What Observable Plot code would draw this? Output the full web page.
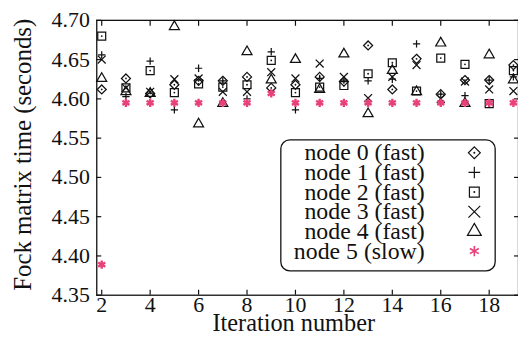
<!DOCTYPE html>
<html><head><meta charset="utf-8">
<script src="https://cdn.jsdelivr.net/npm/d3@7"></script>
<script src="https://cdn.jsdelivr.net/npm/@observablehq/plot@0.6"></script>
<style>html,body{margin:0;padding:0;background:#fff;overflow:hidden;}</style>
</head><body><div id="chart"></div>
<script>
// ---- data ----
const iterations = [2,3,4,5,6,7,8,9,10,11,12,13,14,15,16,17,18,19];
const node0 = [4.612,4.626,4.607,4.618,4.623,4.623,4.628,4.614,4.618,4.628,4.622,4.668,4.612,4.651,4.606,4.624,4.624,4.643];
const node1 = [4.656,4.603,4.648,4.586,4.639,4.623,4.600,4.660,4.586,4.626,4.624,4.623,4.625,4.670,4.606,4.604,4.624,4.628];
const node2 = [4.680,4.614,4.636,4.608,4.619,4.615,4.618,4.649,4.608,4.615,4.617,4.632,4.646,4.610,4.652,4.644,4.594,4.636];
const node3 = [4.650,4.614,4.609,4.625,4.626,4.609,4.609,4.634,4.626,4.645,4.628,4.601,4.628,4.643,4.600,4.622,4.612,4.610];
const node4 = [4.626,4.609,4.607,4.692,4.568,4.594,4.660,4.624,4.650,4.612,4.657,4.581,4.636,4.609,4.671,4.594,4.656,4.624];
const node5 = [4.389,4.595,4.595,4.595,4.595,4.595,4.595,4.607,4.595,4.595,4.595,4.595,4.595,4.595,4.595,4.595,4.595,4.595];
const nodeNames = ["node 0 (fast)","node 1 (fast)","node 2 (fast)","node 3 (fast)","node 4 (fast)","node 5 (slow)"];
const xTicks = [2,4,6,8,10,12,14,16,18];
const yTicks = [4.35,4.40,4.45,4.50,4.55,4.60,4.65,4.70];
const xTitle = "Iteration number";
const yTitle = "Fock matrix time (seconds)";

// ---- styles ----
const series = [node0,node1,node2,node3,node4,node5];
const symbolNames = ["diamond2","plus","square2","times","triangle2","asterisk"];
const d3Symbols = [d3.symbolDiamond2,d3.symbolPlus,d3.symbolSquare2,d3.symbolTimes,d3.symbolTriangle2,d3.symbolAsterisk];
const colors = ["#111","#111","#111","#111","#111","#e8407a"];
const dotR = [4.1,2.5,5.1,3.7,4.8,3.9];
const legendSize = [92,47,125,94,140,75];
const font = "'Liberation Serif','Times New Roman',serif";

const rowsFor = k => series[k].map((v,i) => ({iteration: iterations[i], time: v, node: nodeNames[k]}));

const marks = [
  Plot.frame({stroke:"#111", strokeWidth:1.3}),
  Plot.axisX(xTicks, {anchor:"bottom", tickSize:-5, tickFormat:() => "", label:null, strokeWidth:1.2}),
  Plot.axisX(xTicks, {anchor:"top", tickSize:-5, tickFormat:() => "", label:null, strokeWidth:1.2}),
  Plot.axisX(xTicks, {anchor:"bottom", tickSize:0, tickPadding:1, label:null, fontSize:22}),
  Plot.axisY(yTicks, {anchor:"left", tickSize:-5, tickFormat:() => "", label:null, strokeWidth:1.2}),
  Plot.axisY(yTicks, {anchor:"right", tickSize:-5, tickFormat:() => "", label:null, strokeWidth:1.2}),
  Plot.axisY(yTicks, {anchor:"left", tickSize:0, tickPadding:7, tickFormat:d3.format(".2f"), label:null, fontSize:22}),
];
series.forEach((s,k) => {
  marks.push(Plot.dot(rowsFor(k), {x:"iteration", y:"time", symbol:"node", stroke:colors[k], r:dotR[k], strokeWidth: k===5 ? 2.4 : 1.25}));
  if (k===0 || k===2) marks.push(Plot.dot(rowsFor(k), {x:"iteration", y:"time", r:0.9, fill:"#111"}));
});

const chart = Plot.plot({
  width:522, height:346,
  marginLeft:97, marginRight:0, marginTop:20, marginBottom:49,
  style:{fontFamily:font, color:"#111", background:"#fff"},
  x:{domain:[1.795, 19.21]},
  y:{domain:[4.35, 4.70]},
  symbol:{domain:nodeNames, range:symbolNames},
  marks
});

const svg = d3.select(chart);
// ---- axis titles ----
svg.append("text").attr("x",296).attr("y",334).attr("text-anchor","middle")
  .style("font-family",font).style("font-size","24.5px").attr("fill","#111").text(xTitle);
svg.append("text").attr("transform","translate(31,156) rotate(-90)").attr("text-anchor","middle")
  .style("font-family",font).style("font-size","25px").attr("fill","#111").text(yTitle);

// ---- legend box ----
const g = svg.append("g");
g.append("rect").attr("x",283).attr("y",141).attr("width",216).attr("height",132).attr("rx",9)
  .attr("fill","#fff").attr("stroke","#111").attr("stroke-width",1.3);
nodeNames.forEach((n,i) => {
  const cy = 154 + i*19.8;
  g.append("text").attr("x",428).attr("y",cy).attr("dy","0.32em").attr("text-anchor","end")
    .style("font-family",font).style("font-size","24px").attr("fill","#111").text(n);
  g.append("path").attr("transform",`translate(478,${cy})`).attr("d", d3.symbol(d3Symbols[i], legendSize[i])())
    .attr("fill","none").attr("stroke",colors[i]).attr("stroke-width", i===5 ? 1.6 : 1.2);
  if (i===0 || i===2) g.append("circle").attr("cx",478).attr("cy",cy).attr("r",1).attr("fill","#111");
});
document.getElementById("chart").appendChild(chart);
</script>
</body></html>
